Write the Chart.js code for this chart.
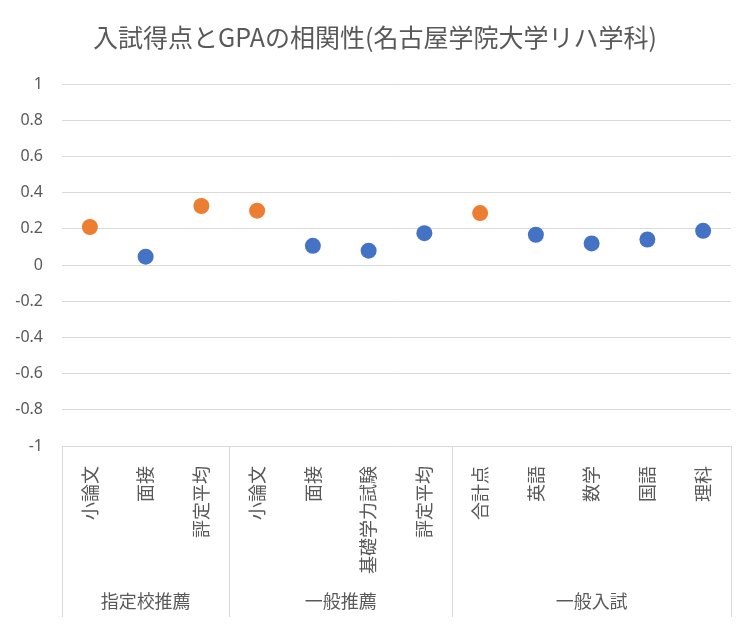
<!DOCTYPE html>
<html>
<head>
<meta charset="utf-8">
<script src="https://cdn.jsdelivr.net/npm/chart.js@4.4.0/dist/chart.umd.min.js"></script>
<style>
html,body{margin:0;padding:0;background:#fff;}
#wrap{width:750px;height:627px;}
</style>
</head>
<body>
<div id="wrap"><canvas id="c" width="750" height="627"></canvas></div>
<script>
const categories = ['小論文','面接','評定平均','小論文','面接','基礎学力試験','評定平均','合計点','英語','数学','国語','理科'];
const groups = ['指定校推薦','一般推薦','一般入試'];
const groupSizes = [3,4,5];
const seriesBlue = [null,0.046,null,null,0.106,0.079,0.176,null,0.167,0.119,0.141,0.189];
const seriesOrange = [0.21,null,0.326,0.30,null,null,null,0.287,null,null,null,null];
const yTicks = [1,0.8,0.6,0.4,0.2,0,-0.2,-0.4,-0.6,-0.8,-1];

const FONT = "'Noto Sans CJK JP','Noto Sans',sans-serif";
const GRAY = '#595959';
const GRID = '#d9d9d9';

const groupPlugin = {
  id:'groupPlugin',
  afterDraw(chart){
    const ctx = chart.ctx;
    const x = chart.scales.x;
    const area = chart.chartArea;
    const n = categories.length;
    const w = (area.right-area.left)/n;
    const bottom = x.bottom;
    ctx.save();
    ctx.strokeStyle = GRID;
    ctx.lineWidth = 1;
    let idx = 0;
    const bounds = [0];
    groupSizes.forEach(s=>{ idx+=s; bounds.push(idx); });
    bounds.forEach(b=>{
      const px = Math.round(area.left + b*w)+0.5;
      ctx.beginPath();
      ctx.moveTo(px, area.bottom);
      ctx.lineTo(px, bottom);
      ctx.stroke();
    });
    ctx.fillStyle = GRAY;
    ctx.font = "18px " + FONT;
    ctx.textAlign = 'center';
    ctx.textBaseline = 'middle';
    groups.forEach((g,i)=>{
      const cx = area.left + (bounds[i]+bounds[i+1])/2*w;
      ctx.fillText(g, cx, 601);
    });
    ctx.restore();
  }
};

new Chart(document.getElementById('c'), {
  type:'line',
  data:{
    labels:categories,
    datasets:[
      {label:'blue', data:seriesBlue, showLine:false, pointRadius:8, pointHoverRadius:8,
       backgroundColor:'#4472C4', borderColor:'#4472C4', pointBorderWidth:0},
      {label:'orange', data:seriesOrange, showLine:false, pointRadius:8, pointHoverRadius:8,
       backgroundColor:'#ED7D31', borderColor:'#ED7D31', pointBorderWidth:0}
    ]
  },
  options:{
    responsive:false,
    animation:false,
    devicePixelRatio:1,
    layout:{padding:{left:0,right:0,top:0,bottom:10}},
    plugins:{
      legend:{display:false},
      tooltip:{enabled:false},
      title:{display:true, text:'入試得点とGPAの相関性(名古屋学院大学リハ学科)',
        color:GRAY, font:{family:FONT, size:25, weight:'normal'}, padding:{top:22,bottom:32}}
    },
    scales:{
      x:{
        offset:true,
        grid:{display:false, offset:true},
        border:{display:false},
        ticks:{color:GRAY, font:{family:FONT,size:18}, minRotation:90, maxRotation:90, padding:12, autoSkip:false},
        afterFit(s){ s.height = 171; }
      },
      y:{
        min:-1, max:1,
        afterBuildTicks(s){ s.ticks = yTicks.map(v=>({value:v})); },
        grid:{color:GRID, drawTicks:false, lineWidth:1},
        border:{display:false},
        ticks:{color:GRAY, font:{family:"'Noto Sans',sans-serif",size:16}, padding:19,
          callback:(v)=>String(Math.round(v*10)/10)},
        afterFit(s){ s.width = 62; }
      },
      yPad:{
        type:'linear', position:'right', min:-1, max:1,
        grid:{display:false}, border:{display:false}, ticks:{display:false},
        afterFit(s){ s.width = 19; }
      }
    }
  },
  plugins:[groupPlugin]
});
</script>
</body>
</html>
